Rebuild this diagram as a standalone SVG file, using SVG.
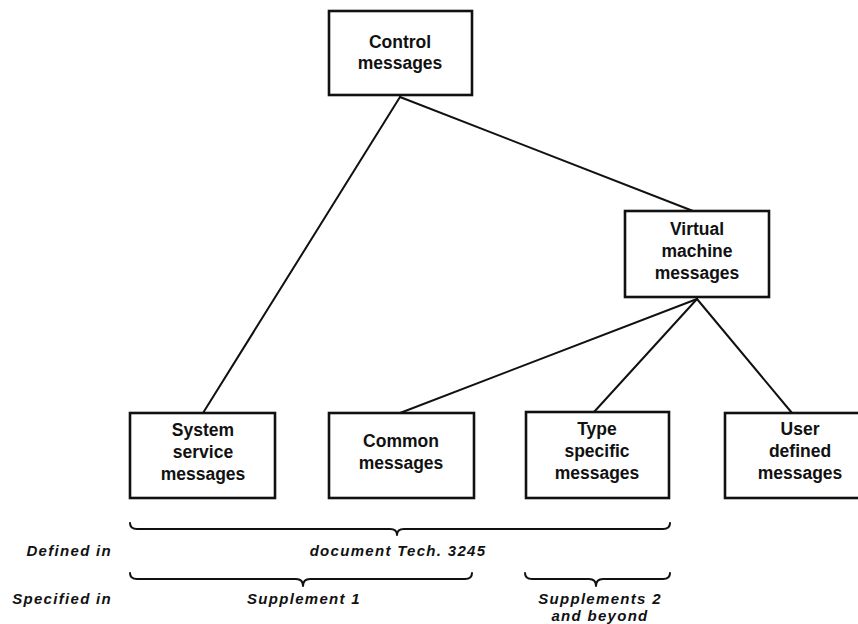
<svg xmlns="http://www.w3.org/2000/svg" width="858" height="624" viewBox="0 0 858 624">
  <style>
    .box { fill: #fff; stroke: #111; stroke-width: 2.6; }
    .lbl { font-family: "Liberation Sans", Arial, sans-serif; font-weight: bold; font-size: 17.5px; fill: #111; text-anchor: middle; }
    .conn { stroke: #111; stroke-width: 2; fill: none; stroke-linecap: round; }
    .brace { stroke: #111; stroke-width: 2; fill: none; stroke-linecap: round; stroke-linejoin: round; }
    .note { font-family: "Liberation Sans", Arial, sans-serif; font-weight: bold; font-style: italic; font-size: 15px; letter-spacing: 1.3px; fill: #111; }
    .mid { text-anchor: middle; }
    .end { text-anchor: end; }
  </style>
  <rect width="858" height="624" fill="#fff"/>

  <!-- connectors -->
  <g id="connectors">
    <line class="conn" x1="400" y1="97" x2="203" y2="413"/>
    <line class="conn" x1="400" y1="97" x2="693" y2="211"/>
    <line class="conn" x1="697" y1="299" x2="400" y2="413"/>
    <line class="conn" x1="697" y1="299" x2="594" y2="412"/>
    <line class="conn" x1="697" y1="299" x2="792" y2="413"/>
  </g>

  <g id="control">
    <rect class="box" x="329" y="11" width="143" height="84"/>
    <text class="lbl" x="400" y="48">Control</text>
    <text class="lbl" x="400" y="69">messages</text>
  </g>

  <g id="virtual">
    <rect class="box" x="625" y="211" width="144" height="86"/>
    <text class="lbl" x="697" y="235">Virtual</text>
    <text class="lbl" x="697" y="257">machine</text>
    <text class="lbl" x="697" y="279">messages</text>
  </g>

  <g id="system">
    <rect class="box" x="130" y="413" width="145" height="85"/>
    <text class="lbl" x="203" y="436">System</text>
    <text class="lbl" x="203" y="458">service</text>
    <text class="lbl" x="203" y="480">messages</text>
  </g>

  <g id="common">
    <rect class="box" x="329" y="413" width="145" height="85"/>
    <text class="lbl" x="401" y="447">Common</text>
    <text class="lbl" x="401" y="469">messages</text>
  </g>

  <g id="type">
    <rect class="box" x="526" y="412" width="143" height="86"/>
    <text class="lbl" x="597" y="435">Type</text>
    <text class="lbl" x="597" y="457">specific</text>
    <text class="lbl" x="597" y="479">messages</text>
  </g>

  <g id="user">
    <rect class="box" x="725" y="413" width="152" height="85"/>
    <text class="lbl" x="800" y="435">User</text>
    <text class="lbl" x="800" y="457">defined</text>
    <text class="lbl" x="800" y="479">messages</text>
  </g>

  <!-- braces -->
  <g id="braces">
    <path class="brace" d="M130,523 Q130,529 137,529 L390,529 Q397,529 397,535 Q397,529 404,529 L663,529 Q670,529 670,523"/>
    <path class="brace" d="M130,573 Q130,579 137,579 L296,579 Q303,579 303,586 Q303,579 310,579 L465,579 Q472,579 472,573"/>
    <path class="brace" d="M525,573 Q525,579 532,579 L589,579 Q596,579 596,586 Q596,579 603,579 L663,579 Q670,579 670,573"/>
  </g>

  <g id="notes">
    <text class="note end" x="112" y="556">Defined in</text>
    <text class="note mid" x="398" y="556">document Tech. 3245</text>
    <text class="note end" x="112" y="604">Specified in</text>
    <text class="note mid" x="304" y="604">Supplement 1</text>
    <text class="note mid" x="600" y="604">Supplements 2</text>
    <text class="note mid" x="600" y="621">and beyond</text>
  </g>
</svg>
